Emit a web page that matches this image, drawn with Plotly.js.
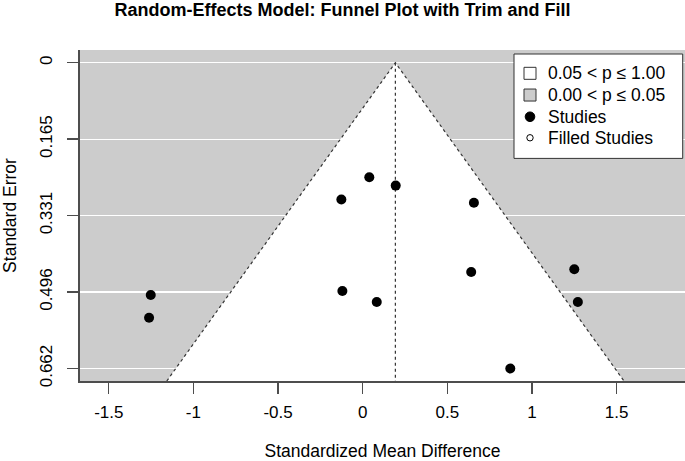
<!DOCTYPE html>
<html>
<head>
<meta charset="utf-8">
<script src="https://cdn.plot.ly/plotly-3.0.1.min.js"></script>
<style>html,body{margin:0;padding:0;background:#fff;}#chart{width:685px;height:461px;}</style>
</head>
<body>
<div id="chart"></div>
<script>
// Observed studies (effect size, standard error)
const studyYi  = [0.039, 0.195, -0.126, 0.657, 0.641, -0.120, 0.083, 0.872, -1.252, -1.262, 1.250, 1.271];
const studySei = [0.248, 0.266, 0.296, 0.303, 0.453, 0.494, 0.518, 0.662, 0.503, 0.552, 0.447, 0.518];
// Filled (imputed) studies from trim and fill: none added
const filledYi  = [];
const filledSei = [];
// Pooled estimate
const estimate = 0.193;
// Axis ticks
const yTickVals = [0, 0.1655, 0.331, 0.4965, 0.662];
const yTickText = ["0", "0.165", "0.331", "0.496", "0.662"];
const xTickVals = [-1.5, -1, -0.5, 0, 0.5, 1, 1.5];
const xTickText = ["-1.5", "-1", "-0.5", "0", "0.5", "1", "1.5"];
const legendLabels = ["0.05 < p \u2264 1.00", "0.00 < p \u2264 0.05", "Studies", "Filled Studies"];

const xRange = [-1.670, 1.904];
const yBottom = 0.689, yTop = -0.0275;
const z = 1.96;

const FONT = "Liberation Sans, Arial, Helvetica, sans-serif";
const GRAY = "#cccccc";
const AX = "#4d4d4d";

// plot-area geometry in pixels (for the legend box placement)
const W = 685, H = 461, M = { l: 80, r: 0, t: 50, b: 80.3 };
const PW = W - M.l - M.r, PH = H - M.t - M.b;
const px = x => (x - M.l) / PW;
const py = y => (H - M.b - y) / PH;

const traces = [
  { // white (non-significant) funnel region
    x: [estimate - z * yBottom, estimate, estimate + z * yBottom],
    y: [yBottom, 0, yBottom],
    mode: "lines", fill: "toself", fillcolor: "#ffffff",
    line: { color: "#333333", width: 1.2, dash: "dot" },
    showlegend: false, hoverinfo: "skip"
  },
  { // vertical line at estimate
    x: [estimate, estimate], y: [0, yBottom],
    mode: "lines", line: { color: "#333333", width: 1.2, dash: "dot" },
    showlegend: false, hoverinfo: "skip"
  },
  { x: studyYi, y: studySei, mode: "markers", name: legendLabels[2], showlegend: false,
    marker: { symbol: "circle", size: 10, color: "#000000" } },
  { x: filledYi, y: filledSei, mode: "markers", name: legendLabels[3], showlegend: false,
    marker: { symbol: "circle-open", size: 7, color: "#000000", line: { width: 1 } } }
];

// legend (drawn as layout shapes / annotations)
const legBox = { x0: 514, x1: 682.7, y0: 54, y1: 158.3 };
const rowY = [73.3, 95, 116.7, 137.7];
const symX = 530, txtX = 546;
const shapes = [
  { type: "rect", xref: "paper", yref: "paper",
    x0: px(legBox.x0), x1: px(legBox.x1), y0: py(legBox.y1), y1: py(legBox.y0),
    fillcolor: "#ffffff", line: { color: "#333333", width: 1 } },
  { type: "rect", xref: "paper", yref: "paper",
    x0: px(symX - 6), x1: px(symX + 6), y0: py(rowY[0] + 6), y1: py(rowY[0] - 6),
    fillcolor: "#ffffff", line: { color: "#333333", width: 1 } },
  { type: "rect", xref: "paper", yref: "paper",
    x0: px(symX - 6), x1: px(symX + 6), y0: py(rowY[1] + 6), y1: py(rowY[1] - 6),
    fillcolor: GRAY, line: { color: "#333333", width: 1 } },
  { type: "circle", xref: "paper", yref: "paper",
    x0: px(symX - 4.8), x1: px(symX + 4.8), y0: py(rowY[2] + 4.8), y1: py(rowY[2] - 4.8),
    fillcolor: "#000000", line: { color: "#000000", width: 1 } },
  { type: "circle", xref: "paper", yref: "paper",
    x0: px(symX - 3.2), x1: px(symX + 3.2), y0: py(rowY[3] + 3.2), y1: py(rowY[3] - 3.2),
    fillcolor: "#ffffff", line: { color: "#000000", width: 1 } }
];
const annotations = legendLabels.map((t, i) => ({
  text: t, xref: "paper", yref: "paper", x: px(txtX), y: py(rowY[i]),
  xanchor: "left", yanchor: "middle", showarrow: false,
  font: { family: FONT, size: 17.5, color: "#000000" }
}));

const layout = {
  width: W, height: H,
  margin: { l: M.l, r: M.r, t: M.t, b: M.b, pad: 0 },
  paper_bgcolor: "#ffffff", plot_bgcolor: GRAY,
  font: { family: FONT, size: 17, color: "#000000" },
  title: { text: "<b>Random-Effects Model: Funnel Plot with Trim and Fill</b>",
    font: { family: FONT, size: 18, color: "#000000" },
    x: 0.5, xref: "container", y: 0.98, yref: "container", yanchor: "middle" },
  xaxis: {
    range: xRange, tickvals: xTickVals, ticktext: xTickText,
    showgrid: false, zeroline: false,
    showline: true, linecolor: AX, linewidth: 1.6,
    ticks: "outside", ticklen: 11, tickwidth: 1.4, tickcolor: AX,
    ticklabelstandoff: 4,
    tickfont: { family: FONT, size: 17, color: "#000000" },
    title: { text: "Standardized Mean Difference", font: { family: FONT, size: 17.5 }, standoff: 30 }
  },
  yaxis: {
    range: [yBottom, yTop], tickvals: yTickVals, ticktext: yTickText,
    showgrid: true, gridcolor: "#ffffff", gridwidth: 1.3, zeroline: false,
    showline: true, linecolor: AX, linewidth: 1.6,
    ticks: "outside", ticklen: 11, tickwidth: 1.4, tickcolor: AX,
    tickangle: -90, ticklabelstandoff: 9,
    tickfont: { family: FONT, size: 17, color: "#000000" },
    title: { text: "Standard Error", font: { family: FONT, size: 17.5 }, standoff: 17 }
  },
  shapes: shapes,
  annotations: annotations,
  showlegend: false
};

Plotly.newPlot("chart", traces, layout, { displayModeBar: false, staticPlot: true });
</script>
</body>
</html>
